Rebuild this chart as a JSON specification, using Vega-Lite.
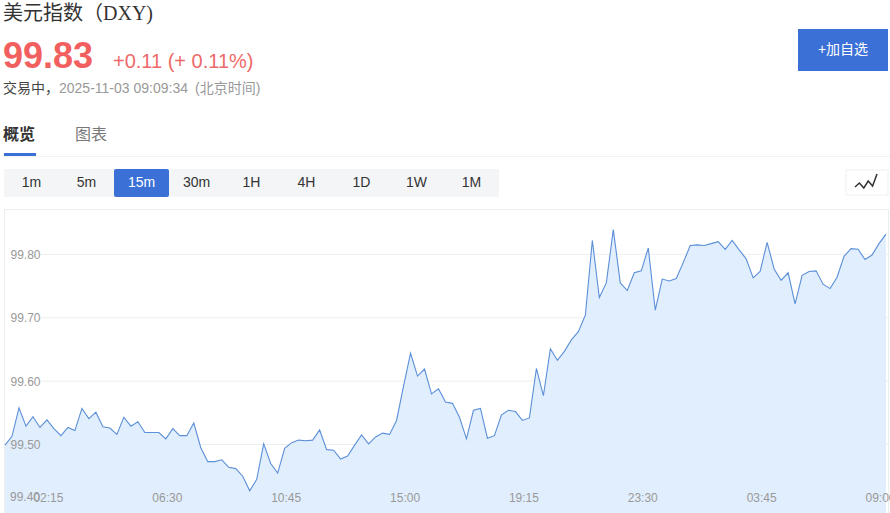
{"$schema":"https://vega.github.io/schema/vega-lite/v6.json","width":890,"height":513,"padding":0,"autosize":{"type":"none"},"background":"#ffffff","config":{"view":{"stroke":null},"text":{"font":"Liberation Sans, Noto Sans CJK SC"}},
"resolve":{"scale":{"x":"independent","y":"independent"},"axis":{"x":"independent","y":"independent"}},
"layer":[
{"data":{"values":[{"box":"plot"}]},"mark":{"type":"rect","fill":null,"stroke":"#eeeeee","strokeWidth":1},"encoding":{"x":{"datum":4.5,"type":"quantitative","scale":{"domain":[0,890],"range":[0,890]},"axis":null},"x2":{"datum":888.5},"y":{"datum":209.5,"type":"quantitative","scale":{"domain":[0,513],"range":[0,513]},"axis":null},"y2":{"datum":514}}},
{"data":{"values":[{"level":99.5},{"level":99.6},{"level":99.7},{"level":99.8}]},"mark":{"type":"rule","stroke":"#eeeeee","strokeWidth":1},"encoding":{"x":{"datum":39,"type":"quantitative","scale":{"domain":[0,890],"range":[0,890]},"axis":null},"x2":{"datum":888},"y":{"field":"level","type":"quantitative","scale":{"domain":[99.392,99.87],"range":[513,210],"zero":false,"nice":false},"axis":null}}},
{"data":{"values":[
{"t":"10-31 00:45","v":99.499},{"t":"10-31 01:00","v":99.513},{"t":"10-31 01:15","v":99.558},{"t":"10-31 01:30","v":99.529},{"t":"10-31 01:45","v":99.544},{"t":"10-31 02:00","v":99.527},{"t":"10-31 02:15","v":99.539},{"t":"10-31 02:30","v":99.525},{"t":"10-31 02:45","v":99.514},{"t":"10-31 03:00","v":99.527},{"t":"10-31 03:15","v":99.522},{"t":"10-31 03:30","v":99.557},{"t":"10-31 03:45","v":99.541},{"t":"10-31 04:00","v":99.551},{"t":"10-31 04:15","v":99.528},{"t":"10-31 04:30","v":99.526},{"t":"10-31 04:45","v":99.516},{"t":"10-31 05:00","v":99.543},{"t":"10-31 05:15","v":99.529},{"t":"10-31 05:30","v":99.536},{"t":"10-31 05:45","v":99.519},{"t":"10-31 06:00","v":99.519},{"t":"10-31 06:15","v":99.519},{"t":"10-31 06:30","v":99.509},{"t":"10-31 06:45","v":99.525},{"t":"10-31 07:00","v":99.514},{"t":"10-31 07:15","v":99.514},{"t":"10-31 07:30","v":99.534},{"t":"10-31 07:45","v":99.495},{"t":"10-31 08:00","v":99.473},{"t":"10-31 08:15","v":99.473},{"t":"10-31 08:30","v":99.476},{"t":"10-31 08:45","v":99.464},{"t":"10-31 09:00","v":99.462},{"t":"10-31 09:15","v":99.45},{"t":"10-31 09:30","v":99.427},{"t":"10-31 09:45","v":99.445},{"t":"10-31 10:00","v":99.501},{"t":"10-31 10:15","v":99.47},{"t":"10-31 10:30","v":99.455},{"t":"10-31 10:45","v":99.494},{"t":"10-31 11:00","v":99.503},{"t":"10-31 11:15","v":99.507},{"t":"10-31 11:30","v":99.506},{"t":"10-31 11:45","v":99.507},{"t":"10-31 12:00","v":99.523},{"t":"10-31 12:15","v":99.492},{"t":"10-31 12:30","v":99.491},{"t":"10-31 12:45","v":99.477},{"t":"10-31 13:00","v":99.482},{"t":"10-31 13:15","v":99.499},{"t":"10-31 13:30","v":99.515},{"t":"10-31 13:45","v":99.501},{"t":"10-31 14:00","v":99.512},{"t":"10-31 14:15","v":99.518},{"t":"10-31 14:30","v":99.516},{"t":"10-31 14:45","v":99.538},{"t":"10-31 15:00","v":99.592},{"t":"10-31 15:15","v":99.644},{"t":"10-31 15:30","v":99.608},{"t":"10-31 15:45","v":99.619},{"t":"10-31 16:00","v":99.58},{"t":"10-31 16:15","v":99.588},{"t":"10-31 16:30","v":99.567},{"t":"10-31 16:45","v":99.565},{"t":"10-31 17:00","v":99.543},{"t":"10-31 17:15","v":99.509},{"t":"10-31 17:30","v":99.554},{"t":"10-31 17:45","v":99.557},{"t":"10-31 18:00","v":99.51},{"t":"10-31 18:15","v":99.514},{"t":"10-31 18:30","v":99.547},{"t":"10-31 18:45","v":99.554},{"t":"10-31 19:00","v":99.552},{"t":"10-31 19:15","v":99.538},{"t":"10-31 19:30","v":99.542},{"t":"10-31 19:45","v":99.62},{"t":"10-31 20:00","v":99.577},{"t":"10-31 20:15","v":99.651},{"t":"10-31 20:30","v":99.633},{"t":"10-31 20:45","v":99.647},{"t":"10-31 21:00","v":99.665},{"t":"10-31 21:15","v":99.678},{"t":"10-31 21:30","v":99.704},{"t":"10-31 21:45","v":99.822},{"t":"10-31 22:00","v":99.732},{"t":"10-31 22:15","v":99.755},{"t":"10-31 22:30","v":99.839},{"t":"10-31 22:45","v":99.755},{"t":"10-31 23:00","v":99.743},{"t":"10-31 23:15","v":99.771},{"t":"10-31 23:30","v":99.774},{"t":"10-31 23:45","v":99.81},{"t":"11-01 00:00","v":99.712},{"t":"11-01 00:15","v":99.761},{"t":"11-01 00:30","v":99.758},{"t":"11-01 00:45","v":99.762},{"t":"11-01 01:00","v":99.787},{"t":"11-01 01:15","v":99.814},{"t":"11-01 01:30","v":99.815},{"t":"11-01 01:45","v":99.814},{"t":"11-01 02:00","v":99.817},{"t":"11-01 02:15","v":99.82},{"t":"11-01 02:30","v":99.808},{"t":"11-01 02:45","v":99.822},{"t":"11-01 03:00","v":99.807},{"t":"11-01 03:15","v":99.793},{"t":"11-01 03:30","v":99.763},{"t":"11-01 03:45","v":99.773},{"t":"11-01 04:00","v":99.819},{"t":"11-01 04:15","v":99.777},{"t":"11-01 04:30","v":99.759},{"t":"11-01 04:45","v":99.771},{"t":"11-03 06:00","v":99.722},{"t":"11-03 06:15","v":99.767},{"t":"11-03 06:30","v":99.773},{"t":"11-03 06:45","v":99.774},{"t":"11-03 07:00","v":99.753},{"t":"11-03 07:15","v":99.746},{"t":"11-03 07:30","v":99.764},{"t":"11-03 07:45","v":99.797},{"t":"11-03 08:00","v":99.809},{"t":"11-03 08:15","v":99.808},{"t":"11-03 08:30","v":99.792},{"t":"11-03 08:45","v":99.799},{"t":"11-03 09:00","v":99.817},{"t":"11-03 09:15","v":99.832}
]},
"encoding":{"x":{"field":"t","type":"ordinal","sort":null,"title":null,"scale":{"type":"point","padding":0,"range":[5,886]},"axis":{"values":["10-31 02:15","10-31 06:30","10-31 10:45","10-31 15:00","10-31 19:15","10-31 23:30","11-01 03:45","11-03 09:00"],"labelExpr":"slice(datum.label,-5)","ticks":false,"domain":false,"grid":false,"labelAngle":0,"labelAlign":"center","labelBaseline":"middle","labelPadding":-16,"labelOffset":1,"labelOverlap":false,"labelBound":false,"labelFlush":false,"labelFont":"Liberation Sans","labelFontSize":12,"labelColor":"#999999","zindex":1}},
"y":{"field":"v","type":"quantitative","title":null,"scale":{"domain":[99.392,99.87],"range":[513,210],"zero":false,"nice":false},"axis":{"values":[99.5,99.6,99.7,99.8],"format":".2f","ticks":false,"domain":false,"grid":false,"labelAlign":"left","labelBaseline":"middle","labelPadding":-10,"labelFont":"Liberation Sans","labelFontSize":12,"labelColor":"#999999","zindex":1}}},
"layer":[{"mark":{"type":"area","fill":"#e1eefd","opacity":1}},{"mark":{"type":"line","stroke":"#5b8fd8","strokeWidth":1.1}}]},
{"data":{"values":[{"label":"99.40"}]},"mark":{"type":"text","align":"left","baseline":"middle","fontSize":12,"fill":"#999999"},"encoding":{"text":{"field":"label"},"x":{"datum":10,"type":"quantitative","scale":{"domain":[0,890],"range":[0,890]},"axis":null},"y":{"datum":497,"type":"quantitative","scale":{"domain":[0,513],"range":[0,513]},"axis":null}}},
{"data":{"values":[{"label":"美元指数（DXY)"}]},"mark":{"type":"text","align":"left","baseline":"middle","fontSize":20,"font":"Liberation Serif, Noto Sans CJK SC","fill":"#333333"},"encoding":{"text":{"field":"label"},"x":{"datum":3,"type":"quantitative","scale":{"domain":[0,890],"range":[0,890]},"axis":null},"y":{"datum":14,"type":"quantitative","scale":{"domain":[0,513],"range":[0,513]},"axis":null}}},
{"data":{"values":[{"label":"99.83"}]},"mark":{"type":"text","align":"left","baseline":"alphabetic","fontSize":36,"fontWeight":"bold","fill":"#f25f5f"},"encoding":{"text":{"field":"label"},"x":{"datum":3,"type":"quantitative","scale":{"domain":[0,890],"range":[0,890]},"axis":null},"y":{"datum":68,"type":"quantitative","scale":{"domain":[0,513],"range":[0,513]},"axis":null}}},
{"data":{"values":[{"label":"+0.11 (+ 0.11%)"}]},"mark":{"type":"text","align":"left","baseline":"alphabetic","fontSize":20,"fill":"#ee6a6a"},"encoding":{"text":{"field":"label"},"x":{"datum":113,"type":"quantitative","scale":{"domain":[0,890],"range":[0,890]},"axis":null},"y":{"datum":68,"type":"quantitative","scale":{"domain":[0,513],"range":[0,513]},"axis":null}}},
{"data":{"values":[{"label":"交易中，"}]},"mark":{"type":"text","align":"left","baseline":"middle","fontSize":14,"fill":"#444444"},"encoding":{"text":{"field":"label"},"x":{"datum":3,"type":"quantitative","scale":{"domain":[0,890],"range":[0,890]},"axis":null},"y":{"datum":89,"type":"quantitative","scale":{"domain":[0,513],"range":[0,513]},"axis":null}}},
{"data":{"values":[{"label":"2025-11-03 09:09:34"}]},"mark":{"type":"text","align":"left","baseline":"middle","fontSize":14,"fill":"#999999"},"encoding":{"text":{"field":"label"},"x":{"datum":59,"type":"quantitative","scale":{"domain":[0,890],"range":[0,890]},"axis":null},"y":{"datum":89,"type":"quantitative","scale":{"domain":[0,513],"range":[0,513]},"axis":null}}},
{"data":{"values":[{"label":"(北京时间)"}]},"mark":{"type":"text","align":"left","baseline":"middle","fontSize":14,"fill":"#999999"},"encoding":{"text":{"field":"label"},"x":{"datum":195,"type":"quantitative","scale":{"domain":[0,890],"range":[0,890]},"axis":null},"y":{"datum":89,"type":"quantitative","scale":{"domain":[0,513],"range":[0,513]},"axis":null}}},
{"data":{"values":[{"label":"概览"}]},"mark":{"type":"text","align":"left","baseline":"middle","fontSize":16,"fontWeight":"bold","fill":"#333333"},"encoding":{"text":{"field":"label"},"x":{"datum":3,"type":"quantitative","scale":{"domain":[0,890],"range":[0,890]},"axis":null},"y":{"datum":135,"type":"quantitative","scale":{"domain":[0,513],"range":[0,513]},"axis":null}}},
{"data":{"values":[{"label":"图表"}]},"mark":{"type":"text","align":"left","baseline":"middle","fontSize":16,"fill":"#777777"},"encoding":{"text":{"field":"label"},"x":{"datum":75,"type":"quantitative","scale":{"domain":[0,890],"range":[0,890]},"axis":null},"y":{"datum":135,"type":"quantitative","scale":{"domain":[0,513],"range":[0,513]},"axis":null}}},
{"data":{"values":[{"part":"tab divider"}]},"mark":{"type":"rect","fill":"#f2f2f2"},"encoding":{"x":{"datum":3,"type":"quantitative","scale":{"domain":[0,890],"range":[0,890]},"axis":null},"x2":{"datum":890},"y":{"datum":156,"type":"quantitative","scale":{"domain":[0,513],"range":[0,513]},"axis":null},"y2":{"datum":157}}},
{"data":{"values":[{"part":"tab underline"}]},"mark":{"type":"rect","fill":"#3b71d7"},"encoding":{"x":{"datum":4,"type":"quantitative","scale":{"domain":[0,890],"range":[0,890]},"axis":null},"x2":{"datum":36},"y":{"datum":153,"type":"quantitative","scale":{"domain":[0,513],"range":[0,513]},"axis":null},"y2":{"datum":156}}},
{"data":{"values":[{"part":"button"}]},"mark":{"type":"rect","fill":"#3b71d7"},"encoding":{"x":{"datum":798,"type":"quantitative","scale":{"domain":[0,890],"range":[0,890]},"axis":null},"x2":{"datum":888},"y":{"datum":29,"type":"quantitative","scale":{"domain":[0,513],"range":[0,513]},"axis":null},"y2":{"datum":71}}},
{"data":{"values":[{"label":"+加自选"}]},"mark":{"type":"text","align":"center","baseline":"middle","fontSize":14,"fill":"#ffffff"},"encoding":{"text":{"field":"label"},"x":{"datum":843,"type":"quantitative","scale":{"domain":[0,890],"range":[0,890]},"axis":null},"y":{"datum":50,"type":"quantitative","scale":{"domain":[0,513],"range":[0,513]},"axis":null}}},
{"data":{"values":[{"part":"icon box"}]},"mark":{"type":"rect","fill":"#ffffff","stroke":"#f0f0f0","strokeWidth":1},"encoding":{"x":{"datum":846,"type":"quantitative","scale":{"domain":[0,890],"range":[0,890]},"axis":null},"x2":{"datum":888},"y":{"datum":170,"type":"quantitative","scale":{"domain":[0,513],"range":[0,513]},"axis":null},"y2":{"datum":195}}},
{"data":{"values":[{"step":0,"level":1},{"step":1,"level":5},{"step":2,"level":0},{"step":3,"level":7},{"step":4,"level":2},{"step":5,"level":14}]},"mark":{"type":"line","stroke":"#333333","strokeWidth":1.5},"encoding":{"x":{"field":"step","type":"quantitative","scale":{"domain":[0,5],"range":[855,877],"nice":false,"zero":false},"axis":null},"y":{"field":"level","type":"quantitative","scale":{"domain":[0,14],"range":[188,174],"nice":false,"zero":false},"axis":null}}},
{"data":{"values":[{"label":"1m"},{"label":"5m"},{"label":"15m"},{"label":"30m"},{"label":"1H"},{"label":"4H"},{"label":"1D"},{"label":"1W"},{"label":"1M"}]},
"encoding":{"x":{"field":"label","type":"nominal","sort":null,"title":null,"scale":{"type":"band","domain":["1m","5m","15m","30m","1H","4H","1D","1W","1M"],"range":[4,499],"paddingInner":0,"paddingOuter":0},"axis":null}},
"layer":[
{"mark":{"type":"bar","fill":"#f4f5f7"},"encoding":{"y":{"datum":169,"type":"quantitative","scale":{"domain":[0,513],"range":[0,513]},"axis":null},"y2":{"datum":197}}},
{"transform":[{"filter":"datum.label==='15m'"}],"mark":{"type":"bar","fill":"#3b71d7","cornerRadius":2},"encoding":{"y":{"datum":169,"type":"quantitative","scale":{"domain":[0,513],"range":[0,513]},"axis":null},"y2":{"datum":197}}},
{"mark":{"type":"text","align":"center","baseline":"middle","fontSize":14},"encoding":{"text":{"field":"label"},"y":{"datum":183,"type":"quantitative","scale":{"domain":[0,513],"range":[0,513]},"axis":null},"color":{"condition":{"test":"datum.label==='15m'","value":"#ffffff"},"value":"#333333"}}}
]}
]}
